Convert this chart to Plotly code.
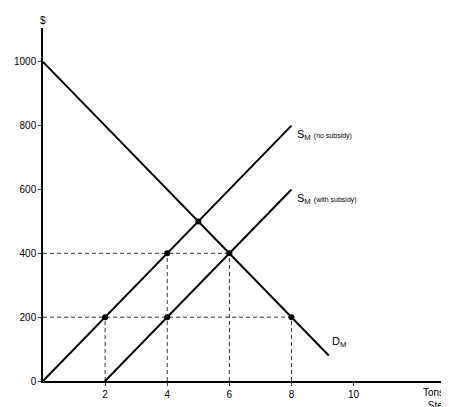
import plotly.graph_objects as go

supply_x = [0, 8]; supply_y = [0, 800]
subsidy_x = [2, 8]; subsidy_y = [0, 600]
demand_x = [0, 9.2]; demand_y = [1000, 80]
pts_x = [2, 4, 5, 4, 6, 8]
pts_y = [200, 400, 500, 200, 400, 200]
hdash = [(400, 6), (200, 8)]
vdash = [(2, 200), (4, 400), (6, 400), (8, 200)]
xticks = [2, 4, 6, 8, 10]
yticks = [0, 200, 400, 600, 800, 1000]

fig = go.Figure()
blk = "black"
for y, xe in hdash:
    fig.add_trace(go.Scatter(x=[0, xe], y=[y, y], mode="lines", line=dict(color=blk, width=0.8, dash="4px,3px")))
for x, ye in vdash:
    fig.add_trace(go.Scatter(x=[x, x], y=[0, ye], mode="lines", line=dict(color=blk, width=0.8, dash="4px,3px")))
for xs, ys in [(supply_x, supply_y), (subsidy_x, subsidy_y), (demand_x, demand_y)]:
    fig.add_trace(go.Scatter(x=xs, y=ys, mode="lines", line=dict(color=blk, width=2)))
fig.add_trace(go.Scatter(x=pts_x, y=pts_y, mode="markers", marker=dict(color=blk, size=6)))

f = dict(family="Liberation Sans", size=10, color=blk)
fl = dict(family="Liberation Sans", size=11, color=blk)
fig.add_annotation(x=8.1, y=800, text="S<sub>M</sub> <span style='font-size:7px'>(no subsidy)</span>", showarrow=False, xanchor="left", yanchor="top", font=fl)
fig.add_annotation(x=8.1, y=600, text="S<sub>M</sub> <span style='font-size:7px'>(with subsidy)</span>", showarrow=False, xanchor="left", yanchor="top", font=fl)
fig.add_annotation(x=9.25, y=150, text="D<sub>M</sub>", showarrow=False, xanchor="left", yanchor="top", font=fl)
fig.add_annotation(x=12.75, y=0, text="Tons of<br>Steel", showarrow=False, xanchor="center", yanchor="top", yshift=-4, font=f)
fig.add_annotation(x=0, y=1106, text="$", showarrow=False, yanchor="bottom", font=f)

fig.update_layout(width=449, height=407, margin=dict(l=35, r=4, t=20, b=34, autoexpand=False),
                  plot_bgcolor="white", paper_bgcolor="white", showlegend=False)
fig.update_xaxes(range=[0, 13.2], tickvals=xticks, showgrid=False, zeroline=False, showline=True, automargin=False,
                 linecolor=blk, linewidth=1.5, ticks="outside", ticklen=3, tickfont=f)
fig.update_yaxes(range=[0, 1106], tickvals=yticks, showgrid=False, zeroline=False, showline=True, automargin=False,
                 linecolor=blk, linewidth=1.5, ticks="outside", ticklen=3, tickfont=f)
fig.write_html("out.html")
